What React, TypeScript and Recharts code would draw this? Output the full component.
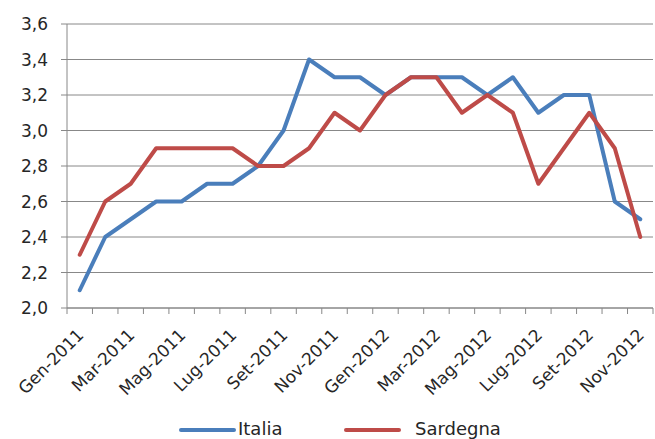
import { LineChart, Line, XAxis, YAxis, CartesianGrid } from "recharts"

const months = [
  "Gen-2011", "Feb-2011", "Mar-2011", "Apr-2011", "Mag-2011", "Giu-2011",
  "Lug-2011", "Ago-2011", "Set-2011", "Ott-2011", "Nov-2011", "Dic-2011",
  "Gen-2012", "Feb-2012", "Mar-2012", "Apr-2012", "Mag-2012", "Giu-2012",
  "Lug-2012", "Ago-2012", "Set-2012", "Ott-2012", "Nov-2012",
]
const italia = [
  2.1, 2.4, 2.5, 2.6, 2.6, 2.7, 2.7, 2.8, 3.0, 3.4, 3.3, 3.3,
  3.2, 3.3, 3.3, 3.3, 3.2, 3.3, 3.1, 3.2, 3.2, 2.6, 2.5,
]
const sardegna = [
  2.3, 2.6, 2.7, 2.9, 2.9, 2.9, 2.9, 2.8, 2.8, 2.9, 3.1, 3.0,
  3.2, 3.3, 3.3, 3.1, 3.2, 3.1, 2.7, 2.9, 3.1, 2.9, 2.4,
]
const yTicks = [2.0, 2.2, 2.4, 2.6, 2.8, 3.0, 3.2, 3.4, 3.6]

const data = months.map((mese, i) => ({
  idx: i,
  mese,
  italia: italia[i],
  sardegna: sardegna[i],
}))

const W = 655
const H = 439
const AXIS_W = 67
const RIGHT = 2
const HALF_BAND = (W - AXIS_W - RIGHT) / months.length / 2
const GRID = "#888888"
const TEXT = "#262626"
const BLUE = "#4a7ebb"
const RED = "#be4b48"
const FONT = "'DejaVu Sans', sans-serif"

const fmt = (v: number) => v.toFixed(1).replace(".", ",")

// tick marks sit on category boundaries, labels on every other month
function MonthTick(props: any) {
  const { x, y, payload } = props
  const i = payload.value as number
  return (
    <g>
      <line x1={x - HALF_BAND} x2={x - HALF_BAND} y1={y} y2={y + 6} stroke={GRID} />
      {i === months.length - 1 && (
        <line x1={x + HALF_BAND} x2={x + HALF_BAND} y1={y} y2={y + 6} stroke={GRID} />
      )}
      {i % 2 === 0 && (
        <text
          x={x + 5}
          y={y + 28}
          textAnchor="end"
          transform={`rotate(-45 ${x + 5} ${y + 28})`}
          fontSize={17}
          fontFamily={FONT}
          fill={TEXT}
        >
          {months[i]}
        </text>
      )}
    </g>
  )
}

export default function App() {
  return (
    <div style={{ position: "absolute", left: 0, top: 0, width: W, height: H, background: "#fff" }}>
      <LineChart
        width={W}
        height={H}
        data={data}
        margin={{ top: 24, right: RIGHT, bottom: 0, left: 0 }}
      >
        <CartesianGrid vertical={false} stroke={GRID} strokeWidth={1} />
        <XAxis
          dataKey="idx"
          type="number"
          domain={[-0.5, months.length - 0.5]}
          allowDataOverflow
          ticks={months.map((_, i) => i)}
          interval={0}
          tickLine={false}
          tickSize={0}
          tickMargin={0}
          axisLine={{ stroke: GRID }}
          height={131}
          tick={<MonthTick />}
        />
        <YAxis
          domain={[2, 3.6]}
          ticks={yTicks}
          interval={0}
          width={AXIS_W}
          tickSize={6}
          tickMargin={13}
          tickFormatter={fmt}
          axisLine={{ stroke: GRID }}
          tickLine={{ stroke: GRID }}
          tick={{ fontSize: 17, fontFamily: FONT, fill: TEXT }}
        />
        <Line
          dataKey="italia"
          name="Italia"
          stroke={BLUE}
          strokeWidth={4}
          strokeLinecap="round"
          strokeLinejoin="round"
          dot={false}
          isAnimationActive={false}
        />
        <Line
          dataKey="sardegna"
          name="Sardegna"
          stroke={RED}
          strokeWidth={4}
          strokeLinecap="round"
          strokeLinejoin="round"
          dot={false}
          isAnimationActive={false}
        />
      </LineChart>
      <svg
        width={W}
        height={29}
        style={{ position: "absolute", left: 0, top: 410 }}
        fontFamily={FONT}
        fontSize={18}
        fill={TEXT}
      >
        <line x1={181} x2={234} y1={20} y2={20} stroke={BLUE} strokeWidth={4} strokeLinecap="round" />
        <text x={238} y={25}>Italia</text>
        <line x1={346} x2={399} y1={20} y2={20} stroke={RED} strokeWidth={4} strokeLinecap="round" />
        <text x={415} y={25}>Sardegna</text>
      </svg>
    </div>
  )
}
